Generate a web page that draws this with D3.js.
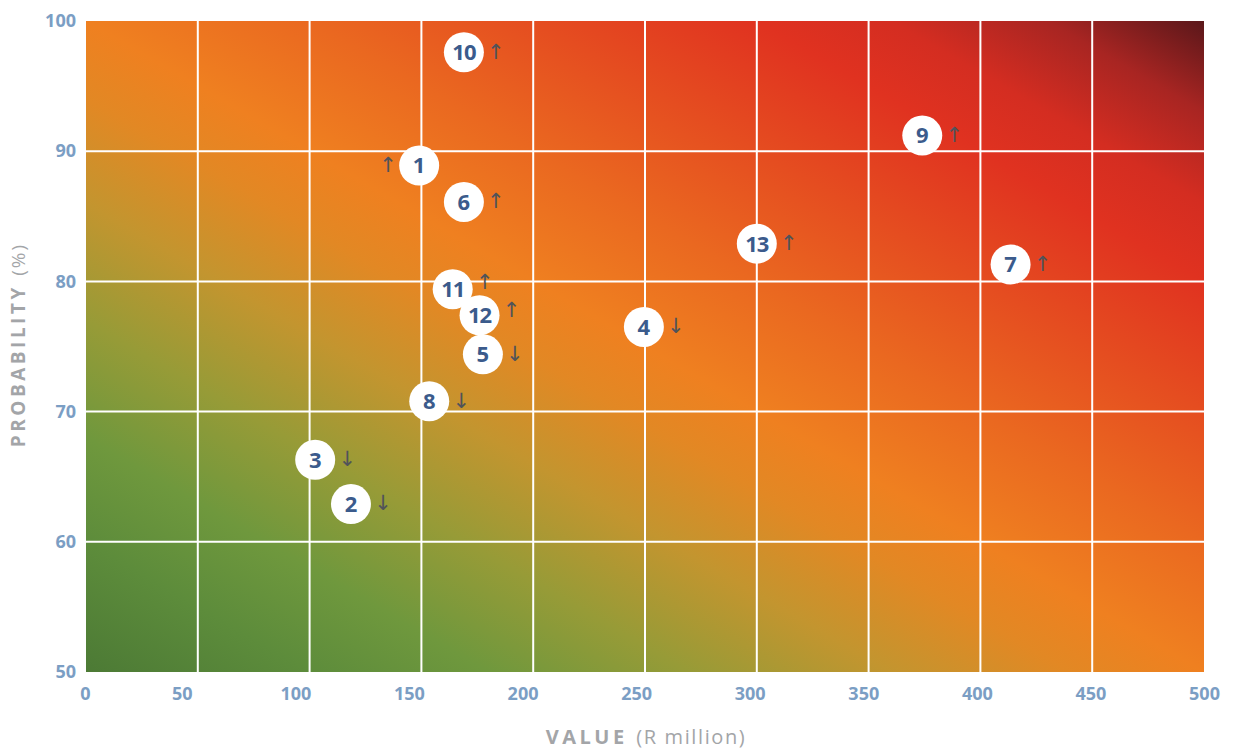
<!DOCTYPE html>
<html>
<head>
<meta charset="utf-8">
<script src="https://cdn.jsdelivr.net/npm/d3@7"></script>
<style>
  html, body { margin: 0; padding: 0; background: #ffffff; }
  svg { display: block; }
</style>
</head>
<body>
<svg id="chart" width="1233" height="751"></svg>
<script>
// ---- data ----
const riskIds   = ["1","2","3","4","5","6","7","8","9","10","11","12","13"];
const riskValue = [149, 118.5, 102.5, 249.5, 177.5, 169, 413.5, 153.5, 374, 169, 164, 176, 300];
const riskProb  = [88.9, 62.9, 66.3, 76.5, 74.4, 86.1, 81.3, 70.8, 91.2, 97.6, 79.4, 77.4, 82.9];
const riskTrend = ["up","down","down","down","down","up","up","down","up","up","up","up","up"];
const xTicks = [0, 50, 100, 150, 200, 250, 300, 350, 400, 450, 500];
const yTicks = [50, 60, 70, 80, 90, 100];

// ---- layout ----
const svg = d3.select("#chart");
const pL = 86, pR = 1204, pT = 21, pB = 672;
const x = d3.scaleLinear().domain([0, 500]).range([pL, pR]);
const y = d3.scaleLinear().domain([50, 100]).range([pB, pT]);

// background gradient (green bottom-left -> orange diagonal -> dark red top-right)
const defs = svg.append("defs");
const grad = defs.append("linearGradient")
  .attr("id", "heat")
  .attr("x1", 0).attr("y1", 1).attr("x2", 1).attr("y2", 0);
const stops = [
  [0.00, "#4c7a35"],
  [0.10, "#5d8c3b"],
  [0.18, "#6f983d"],
  [0.27, "#979b37"],
  [0.36, "#c3952f"],
  [0.44, "#e28824"],
  [0.50, "#ef8020"],
  [0.60, "#ea6820"],
  [0.70, "#e54d20"],
  [0.80, "#e03220"],
  [0.86, "#d42d21"],
  [0.93, "#a82522"],
  [1.00, "#5a171a"]
];
grad.selectAll("stop").data(stops).join("stop")
  .attr("offset", d => d[0]).attr("stop-color", d => d[1]);

svg.append("rect")
  .attr("x", pL).attr("y", pT)
  .attr("width", pR - pL).attr("height", pB - pT)
  .attr("fill", "url(#heat)");

// grid lines
const grid = svg.append("g").attr("stroke", "#ffffff").attr("stroke-width", 2);
grid.selectAll("line.v").data(xTicks.slice(1, -1)).join("line")
  .attr("class", "v")
  .attr("x1", d => x(d)).attr("x2", d => x(d))
  .attr("y1", pT).attr("y2", pB);
grid.selectAll("line.h").data(yTicks.slice(1, -1)).join("line")
  .attr("class", "h")
  .attr("y1", d => y(d)).attr("y2", d => y(d))
  .attr("x1", pL).attr("x2", pR);

// axes (labels only)
const tickColor = "#7b9ec4";
const xAxis = svg.append("g")
  .attr("transform", `translate(0,${pB})`)
  .call(d3.axisBottom(x).tickValues(xTicks).tickSize(0).tickPadding(15).tickFormat(d3.format("d")));
xAxis.select(".domain").remove();
xAxis.selectAll("text")
  .attr("fill", tickColor)
  .attr("font-family", "'Open Sans', sans-serif")
  .attr("font-weight", 700)
  .attr("font-size", 18)
  .attr("dx", d => d === 0 ? -1 : -(500 - d) / 450 * 16);

const yAxis = svg.append("g")
  .attr("transform", `translate(${pL},0)`)
  .call(d3.axisLeft(y).tickValues(yTicks).tickSize(0).tickPadding(10).tickFormat(d3.format("d")));
yAxis.select(".domain").remove();
yAxis.selectAll("text")
  .attr("fill", tickColor)
  .attr("font-family", "'Open Sans', sans-serif")
  .attr("font-weight", 700)
  .attr("font-size", 18);

// axis titles
const xt = svg.append("text")
  .attr("x", 646)
  .attr("y", 744)
  .attr("text-anchor", "middle")
  .attr("fill", "#a3a5a8")
  .attr("font-family", "'Open Sans', sans-serif")
  .attr("font-size", 20);
xt.append("tspan").attr("font-weight", 700).attr("letter-spacing", 3.5).text("VALUE ");
xt.append("tspan").attr("letter-spacing", 1.6).text("(R million)");

const yt = svg.append("text")
  .attr("transform", `translate(25,345) rotate(-90)`)
  .attr("text-anchor", "middle")
  .attr("fill", "#a3a5a8")
  .attr("font-family", "'Open Sans', sans-serif")
  .attr("font-size", 19);
yt.append("tspan").attr("font-weight", 700).attr("letter-spacing", 3.5).text("PROBABILITY ");
yt.append("tspan").attr("letter-spacing", 2).text("(%)");

// points
const pts = riskIds.map((id, i) => ({ id, v: riskValue[i], p: riskProb[i], t: riskTrend[i] }));
const arrowLeft = new Set(["1"]);
const arrowDy = { "11": -8, "12": -6 };

const g = svg.append("g").selectAll("g").data(pts).join("g")
  .attr("transform", d => `translate(${x(d.v)},${y(d.p)})`);

g.append("circle").attr("r", 20).attr("fill", "#ffffff");
g.append("text")
  .attr("text-anchor", "middle")
  .attr("dy", "0.36em")
  .attr("fill", "#3b5b8c")
  .attr("font-family", "'Open Sans', sans-serif")
  .attr("font-weight", 700)
  .attr("font-size", 22)
  .attr("letter-spacing", d => d.id.length > 1 ? -1 : 0)
  .text(d => d.id);
g.append("text")
  .attr("x", d => arrowLeft.has(d.id) ? -31 : 32)
  .attr("y", d => arrowDy[d.id] || -1)
  .attr("text-anchor", "middle")
  .attr("dy", "0.35em")
  .attr("fill", "#50535a")
  .attr("font-family", "'DejaVu Sans', sans-serif")
  .attr("font-size", 21)
  .text(d => d.t === "up" ? "\u2191" : "\u2193");
</script>
</body>
</html>
